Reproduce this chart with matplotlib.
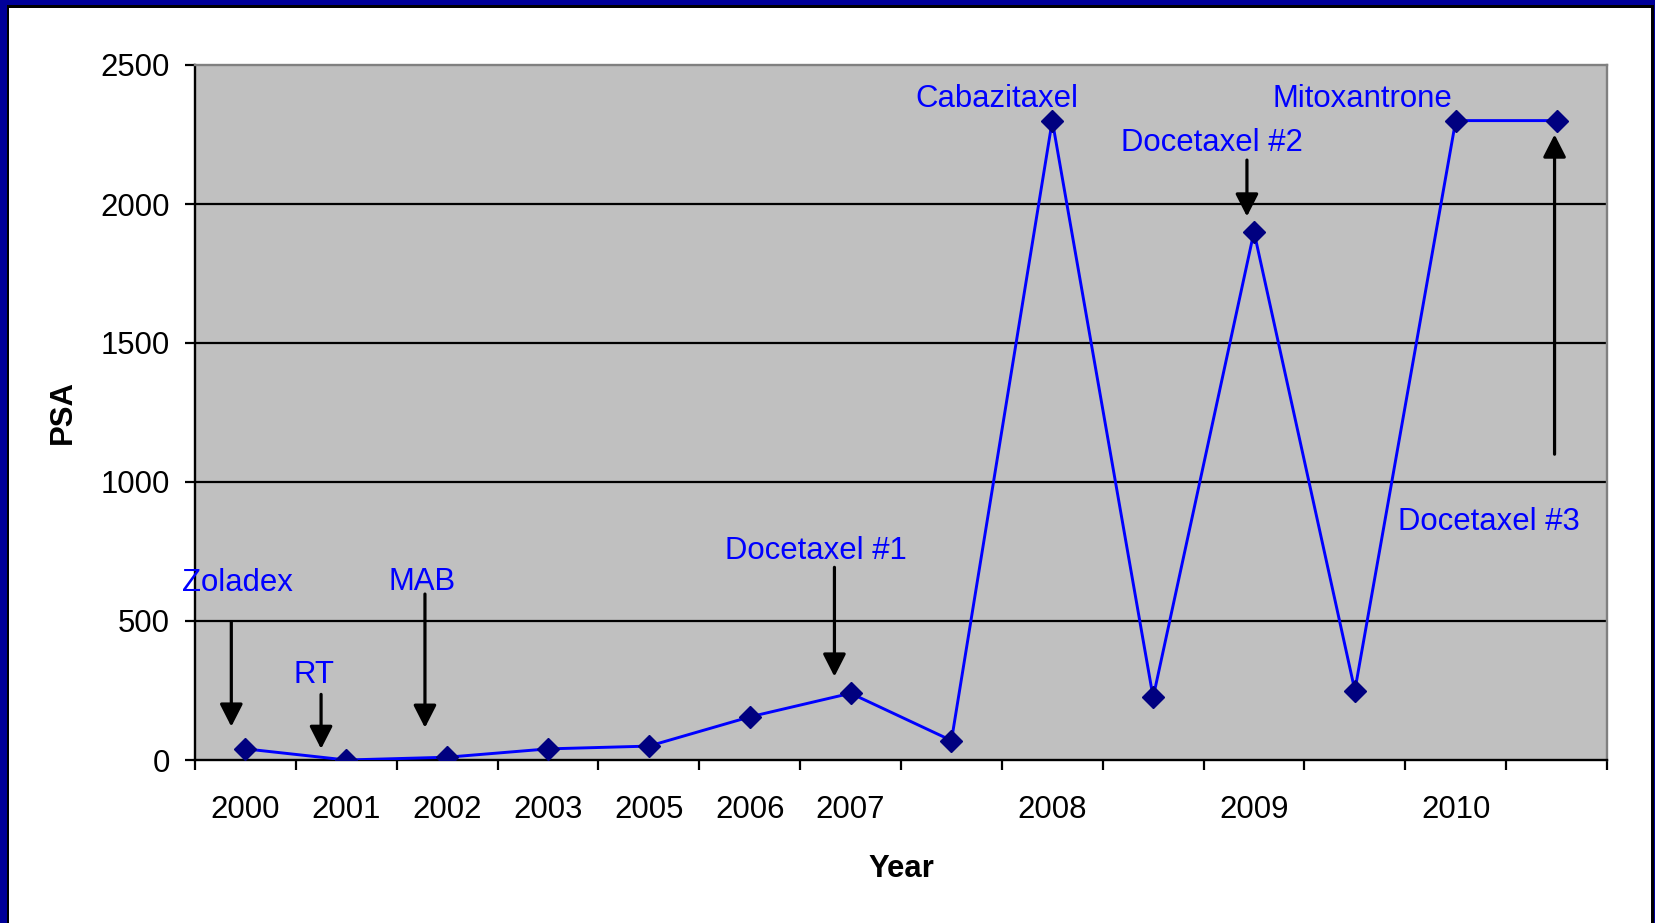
import matplotlib
matplotlib.use("Agg")
import matplotlib.pyplot as plt
from matplotlib.patches import Rectangle
from matplotlib.ticker import FixedLocator, NullFormatter, FixedFormatter

# PSA readings over time
categories = ["2000", "2001", "2002", "2003", "2005", "2006", "2007", "",
              "2008", "", "2009", "", "2010", ""]
psa = [40, 0, 10, 40, 50, 155, 240, 70, 2300, 225, 1900, 250, 2300, 2300]

# Treatment annotations
treatments = ["Zoladex", "RT", "MAB", "Docetaxel #1", "Cabazitaxel",
              "Docetaxel #2", "Mitoxantrone", "Docetaxel #3"]

W, H, DPI = 1655, 923, 100
plt.rcParams["font.family"] = ["Liberation Sans", "DejaVu Sans"]
FS = 22.4

fig = plt.figure(figsize=(W / DPI, H / DPI), dpi=DPI, facecolor="white")

# Slide frame: blue band with a thin black inner line
def px_rect(x, y, w, h, color):
    fig.add_artist(Rectangle((x / W, 1 - (y + h) / H), w / W, h / H,
                             transform=fig.transFigure, facecolor=color,
                             edgecolor="none", zorder=10))

blue_frame = "#000099"
px_rect(0, 0, W, 5, blue_frame)
px_rect(0, 5, W, 2.5, "black")
px_rect(0, 0, 6.5, H, blue_frame)
px_rect(6.5, 5, 2.5, H, "black")
px_rect(1651, 5, 2.5, H, "black")
px_rect(1653.5, 0, 1.5, H, blue_frame)

left, right, top, bottom = 195, 1607, 65, 760
ax = fig.add_axes([left / W, 1 - bottom / H, (right - left) / W, (bottom - top) / H])
ax.set_facecolor("#C0C0C0")

x = list(range(len(psa)))
ax.set_xlim(-0.5, len(psa) - 0.5)
ax.set_ylim(0, 2500)

# Grid lines
for yv in [500, 1000, 1500, 2000]:
    ax.axhline(yv, color="black", lw=1.6, zorder=1)

ax.plot(x, psa, color="#0000FF", lw=2.1, zorder=3)
ax.plot(x, psa, linestyle="none", marker="D", markersize=11,
        markerfacecolor="#000080", markeredgecolor="#000080", zorder=4)

# Spines
for s in ["left", "bottom"]:
    ax.spines[s].set_color("black")
    ax.spines[s].set_linewidth(1.7)
for s in ["top", "right"]:
    ax.spines[s].set_color("#808080")
    ax.spines[s].set_linewidth(1.7)

# Y axis
ax.set_yticks([0, 500, 1000, 1500, 2000, 2500])
ax.tick_params(axis="y", direction="out", length=7, width=1.6, pad=11, labelsize=FS)

# X axis: ticks at category boundaries, labels at category centres
ax.xaxis.set_major_locator(FixedLocator([i - 0.5 for i in range(len(psa) + 1)]))
ax.xaxis.set_major_formatter(NullFormatter())
ax.xaxis.set_minor_locator(FixedLocator(x))
ax.xaxis.set_minor_formatter(FixedFormatter(categories))
ax.tick_params(axis="x", which="major", direction="out", length=7, width=1.6)
ax.tick_params(axis="x", which="minor", length=0, pad=25, labelsize=FS)

ax.set_ylabel("PSA", fontsize=FS, fontweight="bold", labelpad=16)
ax.set_xlabel("Year", fontsize=FS, fontweight="bold", labelpad=21)

text_pos = [(-0.08, 635), (0.68, 304), (1.75, 639), (5.66, 753), (7.45, 2376),
            (9.58, 2220), (11.07, 2376), (12.33, 856)]
arrows = [((-0.14, 498), (-0.14, 120)),
          ((0.75, 236), (0.75, 40)),
          ((1.78, 597), (1.78, 116)),
          ((5.84, 693), (5.84, 300)),
          None,
          ((9.93, 2158), (9.93, 1955)),
          None,
          ((12.98, 1100), (12.98, 2250))]

for label, (tx, ty), arr in zip(treatments, text_pos, arrows):
    ax.text(tx, ty, label, color="#0000FF", fontsize=FS, ha="center", va="center",
            zorder=5)
    if arr is not None:
        (x0, y0), (x1, y1) = arr
        ax.annotate("", xy=(x1, y1), xytext=(x0, y0),
                    arrowprops=dict(arrowstyle="-|>,head_length=0.55,head_width=0.28",
                                    mutation_scale=25, lw=2.3, color="black",
                                    shrinkA=0, shrinkB=0), zorder=5)

fig.savefig("out.png", dpi=DPI, facecolor="white")
